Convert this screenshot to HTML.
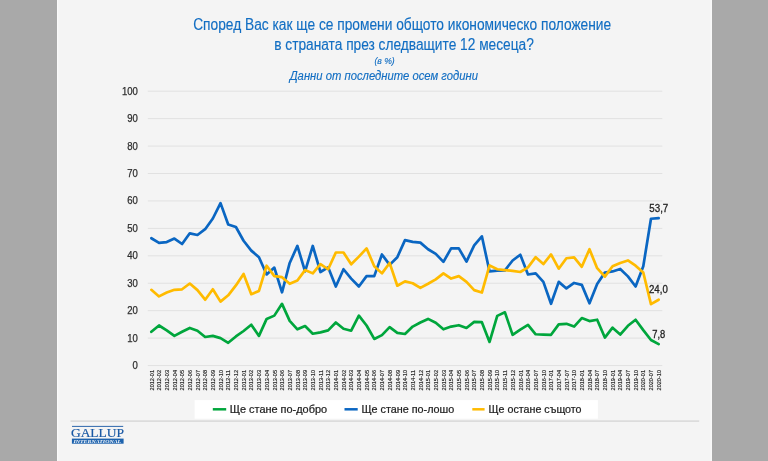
<!DOCTYPE html>
<html><head><meta charset="utf-8"><style>
html,body{margin:0;padding:0;background:#a9a9a9;}
body{width:768px;height:461px;overflow:hidden;position:relative;font-family:'Liberation Sans', sans-serif;}
svg{position:absolute;left:0;top:0;display:block;will-change:transform;}
</style></head><body>
<svg width="768" height="461" viewBox="0 0 768 461">
<rect x="0" y="0" width="768" height="461" fill="#a9a9a9"/>
<rect x="57" y="0" width="655" height="461" fill="#f4f4f4"/>
<rect x="57" y="0" width="1.2" height="461" fill="#fafafa"/>
<rect x="710.5" y="0" width="1.5" height="461" fill="#f9f9f9"/>

<g fill="#126ec3" stroke="#126ec3" stroke-width="0.15" font-family="'Liberation Sans', sans-serif">
<text x="193.2" y="30" font-size="16" textLength="418" lengthAdjust="spacingAndGlyphs">Според Вас как ще се промени общото икономическо положение</text>
<text x="274.2" y="49.5" font-size="16" textLength="259.6" lengthAdjust="spacingAndGlyphs">в страната през следващите 12 месеца?</text>
<text x="374.4" y="64.4" font-size="9.5" font-style="italic" textLength="20.3" lengthAdjust="spacingAndGlyphs">(в %)</text>
<text x="289.7" y="79.7" font-size="12" font-style="italic" textLength="188.3" lengthAdjust="spacingAndGlyphs">Данни от последните осем години</text>
</g>
<g stroke="#e1e1e1" stroke-width="1">
<line x1="147.8" y1="365.55" x2="662.3" y2="365.55"/>
<line x1="147.8" y1="338.12" x2="662.3" y2="338.12"/>
<line x1="147.8" y1="310.68" x2="662.3" y2="310.68"/>
<line x1="147.8" y1="283.25" x2="662.3" y2="283.25"/>
<line x1="147.8" y1="255.81" x2="662.3" y2="255.81"/>
<line x1="147.8" y1="228.38" x2="662.3" y2="228.38"/>
<line x1="147.8" y1="200.94" x2="662.3" y2="200.94"/>
<line x1="147.8" y1="173.50" x2="662.3" y2="173.50"/>
<line x1="147.8" y1="146.07" x2="662.3" y2="146.07"/>
<line x1="147.8" y1="118.64" x2="662.3" y2="118.64"/>
<line x1="147.8" y1="91.20" x2="662.3" y2="91.20"/>
</g>
<g fill="#2e2e2e" stroke="#2e2e2e" stroke-width="0.25" font-family="'Liberation Sans', sans-serif" font-size="10" text-anchor="end">
<text x="137.9" y="369.05" textLength="5.3" lengthAdjust="spacingAndGlyphs">0</text>
<text x="137.9" y="341.62" textLength="10.6" lengthAdjust="spacingAndGlyphs">10</text>
<text x="137.9" y="314.18" textLength="10.6" lengthAdjust="spacingAndGlyphs">20</text>
<text x="137.9" y="286.75" textLength="10.6" lengthAdjust="spacingAndGlyphs">30</text>
<text x="137.9" y="259.31" textLength="10.6" lengthAdjust="spacingAndGlyphs">40</text>
<text x="137.9" y="231.88" textLength="10.6" lengthAdjust="spacingAndGlyphs">50</text>
<text x="137.9" y="204.44" textLength="10.6" lengthAdjust="spacingAndGlyphs">60</text>
<text x="137.9" y="177.00" textLength="10.6" lengthAdjust="spacingAndGlyphs">70</text>
<text x="137.9" y="149.57" textLength="10.6" lengthAdjust="spacingAndGlyphs">80</text>
<text x="137.9" y="122.14" textLength="10.6" lengthAdjust="spacingAndGlyphs">90</text>
<text x="137.9" y="94.70" textLength="15.9" lengthAdjust="spacingAndGlyphs">100</text>
</g>
<g fill="#222222" stroke="#222222" stroke-width="0.15" font-family="'Liberation Sans', sans-serif" font-size="6.1">
<text transform="translate(153.54,390.4) rotate(-90)" textLength="20.4" lengthAdjust="spacingAndGlyphs">2012-01</text>
<text transform="translate(161.23,390.4) rotate(-90)" textLength="20.4" lengthAdjust="spacingAndGlyphs">2012-02</text>
<text transform="translate(168.92,390.4) rotate(-90)" textLength="20.4" lengthAdjust="spacingAndGlyphs">2012-03</text>
<text transform="translate(176.60,390.4) rotate(-90)" textLength="20.4" lengthAdjust="spacingAndGlyphs">2012-04</text>
<text transform="translate(184.29,390.4) rotate(-90)" textLength="20.4" lengthAdjust="spacingAndGlyphs">2012-05</text>
<text transform="translate(191.98,390.4) rotate(-90)" textLength="20.4" lengthAdjust="spacingAndGlyphs">2012-06</text>
<text transform="translate(199.66,390.4) rotate(-90)" textLength="20.4" lengthAdjust="spacingAndGlyphs">2012-07</text>
<text transform="translate(207.35,390.4) rotate(-90)" textLength="20.4" lengthAdjust="spacingAndGlyphs">2012-08</text>
<text transform="translate(215.04,390.4) rotate(-90)" textLength="20.4" lengthAdjust="spacingAndGlyphs">2012-09</text>
<text transform="translate(222.72,390.4) rotate(-90)" textLength="20.4" lengthAdjust="spacingAndGlyphs">2012-10</text>
<text transform="translate(230.41,390.4) rotate(-90)" textLength="20.4" lengthAdjust="spacingAndGlyphs">2012-11</text>
<text transform="translate(238.10,390.4) rotate(-90)" textLength="20.4" lengthAdjust="spacingAndGlyphs">2012-12</text>
<text transform="translate(245.78,390.4) rotate(-90)" textLength="20.4" lengthAdjust="spacingAndGlyphs">2013-01</text>
<text transform="translate(253.47,390.4) rotate(-90)" textLength="20.4" lengthAdjust="spacingAndGlyphs">2013-02</text>
<text transform="translate(261.16,390.4) rotate(-90)" textLength="20.4" lengthAdjust="spacingAndGlyphs">2013-03</text>
<text transform="translate(268.84,390.4) rotate(-90)" textLength="20.4" lengthAdjust="spacingAndGlyphs">2013-04</text>
<text transform="translate(276.53,390.4) rotate(-90)" textLength="20.4" lengthAdjust="spacingAndGlyphs">2013-05</text>
<text transform="translate(284.21,390.4) rotate(-90)" textLength="20.4" lengthAdjust="spacingAndGlyphs">2013-06</text>
<text transform="translate(291.90,390.4) rotate(-90)" textLength="20.4" lengthAdjust="spacingAndGlyphs">2013-07</text>
<text transform="translate(299.59,390.4) rotate(-90)" textLength="20.4" lengthAdjust="spacingAndGlyphs">2013-08</text>
<text transform="translate(307.27,390.4) rotate(-90)" textLength="20.4" lengthAdjust="spacingAndGlyphs">2013-09</text>
<text transform="translate(314.96,390.4) rotate(-90)" textLength="20.4" lengthAdjust="spacingAndGlyphs">2013-10</text>
<text transform="translate(322.65,390.4) rotate(-90)" textLength="20.4" lengthAdjust="spacingAndGlyphs">2013-11</text>
<text transform="translate(330.33,390.4) rotate(-90)" textLength="20.4" lengthAdjust="spacingAndGlyphs">2013-12</text>
<text transform="translate(338.02,390.4) rotate(-90)" textLength="20.4" lengthAdjust="spacingAndGlyphs">2014-01</text>
<text transform="translate(345.71,390.4) rotate(-90)" textLength="20.4" lengthAdjust="spacingAndGlyphs">2014-02</text>
<text transform="translate(353.39,390.4) rotate(-90)" textLength="20.4" lengthAdjust="spacingAndGlyphs">2014-03</text>
<text transform="translate(361.08,390.4) rotate(-90)" textLength="20.4" lengthAdjust="spacingAndGlyphs">2014-04</text>
<text transform="translate(368.77,390.4) rotate(-90)" textLength="20.4" lengthAdjust="spacingAndGlyphs">2014-05</text>
<text transform="translate(376.45,390.4) rotate(-90)" textLength="20.4" lengthAdjust="spacingAndGlyphs">2014-06</text>
<text transform="translate(384.14,390.4) rotate(-90)" textLength="20.4" lengthAdjust="spacingAndGlyphs">2014-07</text>
<text transform="translate(391.83,390.4) rotate(-90)" textLength="20.4" lengthAdjust="spacingAndGlyphs">2014-08</text>
<text transform="translate(399.51,390.4) rotate(-90)" textLength="20.4" lengthAdjust="spacingAndGlyphs">2014-09</text>
<text transform="translate(407.20,390.4) rotate(-90)" textLength="20.4" lengthAdjust="spacingAndGlyphs">2014-10</text>
<text transform="translate(414.89,390.4) rotate(-90)" textLength="20.4" lengthAdjust="spacingAndGlyphs">2014-11</text>
<text transform="translate(422.57,390.4) rotate(-90)" textLength="20.4" lengthAdjust="spacingAndGlyphs">2014-12</text>
<text transform="translate(430.26,390.4) rotate(-90)" textLength="20.4" lengthAdjust="spacingAndGlyphs">2015-01</text>
<text transform="translate(437.95,390.4) rotate(-90)" textLength="20.4" lengthAdjust="spacingAndGlyphs">2015-02</text>
<text transform="translate(445.63,390.4) rotate(-90)" textLength="20.4" lengthAdjust="spacingAndGlyphs">2015-03</text>
<text transform="translate(453.32,390.4) rotate(-90)" textLength="20.4" lengthAdjust="spacingAndGlyphs">2015-04</text>
<text transform="translate(461.01,390.4) rotate(-90)" textLength="20.4" lengthAdjust="spacingAndGlyphs">2015-05</text>
<text transform="translate(468.69,390.4) rotate(-90)" textLength="20.4" lengthAdjust="spacingAndGlyphs">2015-06</text>
<text transform="translate(476.38,390.4) rotate(-90)" textLength="20.4" lengthAdjust="spacingAndGlyphs">2015-07</text>
<text transform="translate(484.07,390.4) rotate(-90)" textLength="20.4" lengthAdjust="spacingAndGlyphs">2015-08</text>
<text transform="translate(491.75,390.4) rotate(-90)" textLength="20.4" lengthAdjust="spacingAndGlyphs">2015-09</text>
<text transform="translate(499.44,390.4) rotate(-90)" textLength="20.4" lengthAdjust="spacingAndGlyphs">2015-10</text>
<text transform="translate(507.13,390.4) rotate(-90)" textLength="20.4" lengthAdjust="spacingAndGlyphs">2015-11</text>
<text transform="translate(514.81,390.4) rotate(-90)" textLength="20.4" lengthAdjust="spacingAndGlyphs">2015-12</text>
<text transform="translate(522.50,390.4) rotate(-90)" textLength="20.4" lengthAdjust="spacingAndGlyphs">2016-01</text>
<text transform="translate(530.19,390.4) rotate(-90)" textLength="20.4" lengthAdjust="spacingAndGlyphs">2016-04</text>
<text transform="translate(537.87,390.4) rotate(-90)" textLength="20.4" lengthAdjust="spacingAndGlyphs">2016-07</text>
<text transform="translate(545.56,390.4) rotate(-90)" textLength="20.4" lengthAdjust="spacingAndGlyphs">2016-10</text>
<text transform="translate(553.24,390.4) rotate(-90)" textLength="20.4" lengthAdjust="spacingAndGlyphs">2017-01</text>
<text transform="translate(560.93,390.4) rotate(-90)" textLength="20.4" lengthAdjust="spacingAndGlyphs">2017-04</text>
<text transform="translate(568.62,390.4) rotate(-90)" textLength="20.4" lengthAdjust="spacingAndGlyphs">2017-07</text>
<text transform="translate(576.30,390.4) rotate(-90)" textLength="20.4" lengthAdjust="spacingAndGlyphs">2017-10</text>
<text transform="translate(583.99,390.4) rotate(-90)" textLength="20.4" lengthAdjust="spacingAndGlyphs">2018-01</text>
<text transform="translate(591.68,390.4) rotate(-90)" textLength="20.4" lengthAdjust="spacingAndGlyphs">2018-04</text>
<text transform="translate(599.36,390.4) rotate(-90)" textLength="20.4" lengthAdjust="spacingAndGlyphs">2018-07</text>
<text transform="translate(607.05,390.4) rotate(-90)" textLength="20.4" lengthAdjust="spacingAndGlyphs">2018-10</text>
<text transform="translate(614.74,390.4) rotate(-90)" textLength="20.4" lengthAdjust="spacingAndGlyphs">2019-01</text>
<text transform="translate(622.42,390.4) rotate(-90)" textLength="20.4" lengthAdjust="spacingAndGlyphs">2019-04</text>
<text transform="translate(630.11,390.4) rotate(-90)" textLength="20.4" lengthAdjust="spacingAndGlyphs">2019-07</text>
<text transform="translate(637.80,390.4) rotate(-90)" textLength="20.4" lengthAdjust="spacingAndGlyphs">2019-10</text>
<text transform="translate(645.48,390.4) rotate(-90)" textLength="20.4" lengthAdjust="spacingAndGlyphs">2020-01</text>
<text transform="translate(653.17,390.4) rotate(-90)" textLength="20.4" lengthAdjust="spacingAndGlyphs">2020-07</text>
<text transform="translate(660.86,390.4) rotate(-90)" textLength="20.4" lengthAdjust="spacingAndGlyphs">2020-10</text>
</g>
<rect x="650" y="328.5" width="17" height="11" fill="#f4f4f4"/>
<g fill="none" stroke-width="2.7" stroke-linejoin="round" stroke-linecap="round">
<path d="M151.34,331.80 L159.03,325.49 L166.72,330.43 L174.40,335.92 L182.09,331.80 L189.78,327.96 L197.46,330.71 L205.15,337.02 L212.84,335.92 L220.52,338.12 L228.21,342.78 L235.90,336.47 L243.58,330.98 L251.27,324.67 L258.96,335.92 L266.64,318.91 L274.33,315.62 L282.01,303.82 L289.70,320.83 L297.39,329.34 L305.07,326.04 L312.76,333.73 L320.45,332.35 L328.13,330.43 L335.82,322.48 L343.51,328.79 L351.19,330.71 L358.88,315.62 L366.57,325.49 L374.25,338.94 L381.94,335.10 L389.63,327.14 L397.31,332.90 L405.00,334.00 L412.69,326.59 L420.37,322.48 L428.06,318.91 L435.75,322.75 L443.43,329.34 L451.12,326.59 L458.81,325.22 L466.49,327.96 L474.18,321.93 L481.87,322.20 L489.55,341.96 L497.24,315.89 L504.93,312.33 L512.61,334.82 L520.30,329.61 L527.99,324.95 L535.67,334.27 L543.36,334.55 L551.04,334.82 L558.73,324.40 L566.42,323.85 L574.10,326.59 L581.79,318.09 L589.48,321.11 L597.16,319.73 L604.85,337.57 L612.54,327.69 L620.22,334.55 L627.91,325.77 L635.60,319.73 L643.28,330.16 L650.97,340.04 L658.66,344.15" stroke="#00a63c"/>
<path d="M151.34,238.25 L159.03,242.92 L166.72,242.09 L174.40,238.53 L182.09,244.01 L189.78,233.31 L197.46,234.96 L205.15,229.20 L212.84,218.50 L220.52,203.13 L228.21,224.53 L235.90,227.00 L243.58,240.72 L251.27,250.60 L258.96,257.18 L266.64,274.47 L274.33,267.61 L282.01,292.30 L289.70,262.94 L297.39,245.93 L305.07,271.45 L312.76,245.93 L320.45,272.00 L328.13,267.33 L335.82,286.54 L343.51,269.25 L351.19,278.58 L358.88,286.54 L366.57,276.11 L374.25,276.11 L381.94,254.44 L389.63,264.86 L397.31,257.18 L405.00,240.17 L412.69,241.82 L420.37,242.64 L428.06,249.23 L435.75,253.89 L443.43,261.85 L451.12,248.40 L458.81,248.40 L466.49,261.57 L474.18,245.38 L481.87,236.33 L489.55,271.45 L497.24,270.62 L504.93,270.35 L512.61,260.47 L520.30,254.71 L527.99,274.47 L535.67,273.37 L543.36,281.87 L551.04,303.82 L558.73,281.87 L566.42,288.46 L574.10,282.97 L581.79,284.89 L589.48,303.27 L597.16,284.07 L604.85,272.55 L612.54,271.45 L620.22,268.98 L627.91,276.39 L635.60,286.54 L643.28,266.24 L650.97,218.77 L658.66,218.22" stroke="#0a66c2"/>
<path d="M151.34,289.83 L159.03,296.41 L166.72,292.57 L174.40,289.83 L182.09,289.28 L189.78,283.52 L197.46,290.10 L205.15,299.71 L212.84,289.28 L220.52,301.63 L228.21,295.32 L235.90,285.44 L243.58,273.92 L251.27,294.22 L258.96,290.93 L266.64,265.69 L274.33,276.11 L282.01,277.21 L289.70,283.79 L297.39,280.50 L305.07,270.08 L312.76,273.37 L320.45,264.04 L328.13,269.25 L335.82,252.52 L343.51,252.52 L351.19,264.31 L358.88,256.63 L366.57,248.40 L374.25,266.24 L381.94,273.37 L389.63,262.94 L397.31,285.71 L405.00,281.32 L412.69,283.25 L420.37,287.91 L428.06,283.79 L435.75,279.40 L443.43,273.37 L451.12,278.58 L458.81,276.11 L466.49,281.87 L474.18,290.10 L481.87,292.57 L489.55,265.41 L497.24,269.25 L504.93,270.08 L512.61,270.90 L520.30,272.00 L527.99,267.33 L535.67,257.18 L543.36,264.04 L551.04,254.44 L558.73,268.70 L566.42,258.28 L574.10,257.46 L581.79,266.78 L589.48,249.23 L597.16,268.16 L604.85,276.66 L612.54,266.24 L620.22,262.94 L627.91,260.47 L635.60,265.69 L643.28,272.55 L650.97,304.10 L658.66,299.71" stroke="#ffbb00"/>
</g>
<g fill="#222222" stroke="#222222" stroke-width="0.28" font-family="'Liberation Sans', sans-serif" font-size="10">
<text x="649.3" y="211.6" textLength="19.0" lengthAdjust="spacingAndGlyphs">53,7</text>
<text x="649.0" y="292.6" textLength="18.8" lengthAdjust="spacingAndGlyphs">24,0</text>
<text x="652.2" y="337.8" textLength="13" lengthAdjust="spacingAndGlyphs">7,8</text>
</g>
<rect x="194.6" y="400.1" width="403.3" height="18.6" fill="#ffffff"/>
<g stroke-width="2.5">
<line x1="212.8" y1="409.3" x2="226.2" y2="409.3" stroke="#00a63c"/>
<line x1="344.5" y1="409.3" x2="357.7" y2="409.3" stroke="#0a66c2"/>
<line x1="472.3" y1="409.3" x2="484.6" y2="409.3" stroke="#ffbb00"/>
</g>
<g fill="#1e1e1e" stroke="#1e1e1e" stroke-width="0.22" font-family="'Liberation Sans', sans-serif" font-size="10.1">
<text x="229.7" y="413.1" textLength="97.4" lengthAdjust="spacingAndGlyphs">Ще стане по-добро</text>
<text x="361.4" y="413.1" textLength="92.9" lengthAdjust="spacingAndGlyphs">Ще стане по-лошо</text>
<text x="488.6" y="413.1" textLength="92.9" lengthAdjust="spacingAndGlyphs">Ще остане същото</text>
</g>
<rect x="70.5" y="420.3" width="628.7" height="1.6" fill="#dadada"/>
<g>
<rect x="72" y="425.9" width="51.2" height="0.9" fill="#1858a4"/>
<text x="70.9" y="436.7" font-family="'Liberation Serif', serif" font-size="13.4" fill="#1858a4" stroke="#1858a4" stroke-width="0.2" textLength="53.2" lengthAdjust="spacingAndGlyphs">GALLUP</text>
<rect x="71.9" y="438.6" width="51.7" height="5.1" fill="#1d62ad"/>
<text x="73.4" y="442.9" font-family="'Liberation Serif', serif" font-size="4.9" font-style="italic" font-weight="bold" fill="#f4f8fc" textLength="47.8" lengthAdjust="spacingAndGlyphs">INTERNATIONAL</text>
</g>
</svg>
</body></html>
